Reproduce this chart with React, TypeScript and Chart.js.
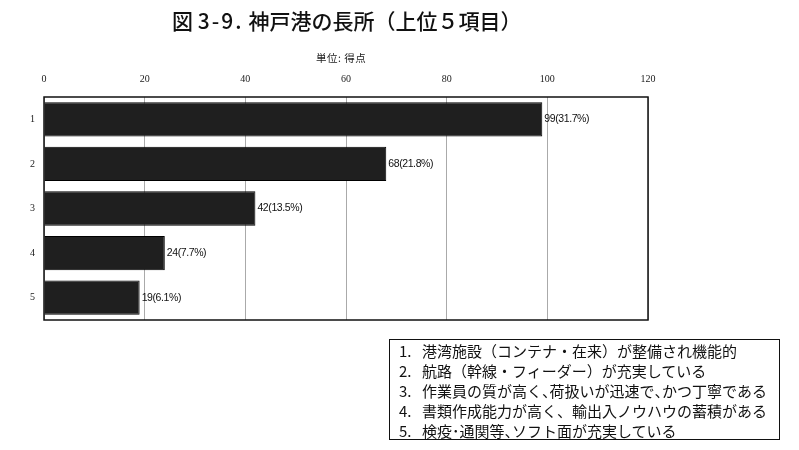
import { useEffect, useRef } from "react";
import { Chart, registerables } from "chart.js";

Chart.register(...registerables);

// data
const categories = ["1", "2", "3", "4", "5"];
const scores = [99, 68, 42, 24, 19];
const shares = ["31.7%", "21.8%", "13.5%", "7.7%", "6.1%"];
const xTicks = [0, 20, 40, 60, 80, 100, 120];
const legendItems = [
  "港湾施設（コンテナ・在来）が整備され機能的",
  "航路（幹線・フィーダー）が充実している",
  "作業員の質が高く、荷扱いが迅速で、かつ丁寧である",
  "書類作成能力が高く、輸出入ノウハウの蓄積がある",
  "検疫･通関等、ソフト面が充実している",
];

const JP = '"Noto Sans CJK JP", "Noto Sans", sans-serif';
// rows where the original set the comma half-width
const halfCommaRows = [2, 4];

const barLabels = {
  id: "barLabels",
  afterDatasetsDraw(chart: Chart) {
    const ctx = chart.ctx as any;
    const meta = chart.getDatasetMeta(0);
    ctx.save();
    ctx.font = '10.5px "Liberation Sans", Arial, sans-serif';
    ctx.letterSpacing = "-0.4px";
    ctx.fillStyle = "#111";
    ctx.textAlign = "left";
    ctx.textBaseline = "middle";
    meta.data.forEach((el: any, i: number) => {
      ctx.fillText(`${scores[i]}(${shares[i]})`, el.x + 2, el.y);
    });
    ctx.restore();
  },
};

const frame = {
  id: "frame",
  afterDraw(chart: Chart) {
    const { ctx, chartArea } = chart;
    ctx.save();
    ctx.strokeStyle = "#111";
    ctx.lineWidth = 1.5;
    ctx.strokeRect(
      chartArea.left,
      chartArea.top,
      chartArea.right - chartArea.left,
      chartArea.bottom - chartArea.top
    );
    ctx.restore();
  },
};

function HBar() {
  const canvasRef = useRef<HTMLCanvasElement>(null);

  useEffect(() => {
    if (!canvasRef.current) return;
    const chart = new Chart(canvasRef.current, {
      type: "bar",
      data: {
        labels: categories,
        datasets: [
          {
            data: scores,
            backgroundColor: "#1f1f1f",
            borderColor: "#000",
            borderWidth: 1,
            categoryPercentage: 1,
            barPercentage: 0.77,
          },
        ],
      },
      options: {
        indexAxis: "y",
        responsive: false,
        animation: false,
        layout: { padding: { top: 71, right: 151, bottom: 130, left: 0 } },
        plugins: {
          legend: { display: false },
          tooltip: { enabled: false },
        },
        scales: {
          x: {
            position: "top",
            min: 0,
            max: 120,
            afterFit: (s: any) => {
              s.height = 26;
            },
            afterBuildTicks: (s: any) => {
              s.ticks = xTicks.map((v) => ({ value: v }));
            },
            ticks: {
              padding: 12,
              color: "#1a1a1a",
              font: { family: '"Liberation Serif", serif', size: 10 },
            },
            grid: { color: "#aaaaaa", lineWidth: 1, drawTicks: false },
            border: { display: false },
          },
          y: {
            afterFit: (s: any) => {
              s.width = 44;
            },
            ticks: {
              padding: 9,
              color: "#1a1a1a",
              font: { family: '"Liberation Serif", serif', size: 10 },
            },
            grid: { display: false, drawTicks: false },
            border: { display: false },
          },
        },
      },
      plugins: [barLabels, frame],
    });
    return () => chart.destroy();
  }, []);

  return <canvas ref={canvasRef} width={799} height={450} />;
}

function LegendLine({ text, row }: { text: string; row: number }) {
  if (!halfCommaRows.includes(row)) return <>{text}</>;
  const parts = text.split("、");
  return (
    <>
      {parts.map((p, i) => (
        <span key={i}>
          {p}
          {i < parts.length - 1 && (
            <span style={{ fontFeatureSettings: '"halt"' }}>、</span>
          )}
        </span>
      ))}
    </>
  );
}

export default function App() {
  return (
    <div
      style={{
        position: "fixed",
        left: 0,
        top: 0,
        width: 799,
        height: 450,
        background: "#fff",
        overflow: "hidden",
      }}
    >
      <HBar />
      <div
        style={{
          position: "absolute",
          left: 172,
          top: 5,
          fontFamily: JP,
          fontSize: 21,
          fontWeight: 500,
          color: "#111",
          whiteSpace: "nowrap",
        }}
      >
        図 <span style={{ letterSpacing: 2, marginRight: 5 }}>3-9.</span>
        神戸港の長所（上位５項目）
      </div>
      <div
        style={{
          position: "absolute",
          left: 316,
          top: 50,
          fontFamily: JP,
          fontSize: 10.5,
          letterSpacing: 0.5,
          color: "#222",
          whiteSpace: "nowrap",
        }}
      >
        単位: 得点
      </div>
      <div
        style={{
          position: "absolute",
          left: 389,
          top: 339,
          width: 391,
          height: 101,
          border: "1.5px solid #111",
          boxSizing: "border-box",
          padding: "1px 0 0 9px",
          fontFamily: JP,
          fontSize: 15,
          lineHeight: "20px",
          color: "#111",
          whiteSpace: "nowrap",
        }}
      >
        {legendItems.map((t, i) => (
          <div key={i}>
            <span style={{ display: "inline-block", width: 23 }}>{i + 1}.</span>
            <LegendLine text={t} row={i} />
          </div>
        ))}
      </div>
    </div>
  );
}
